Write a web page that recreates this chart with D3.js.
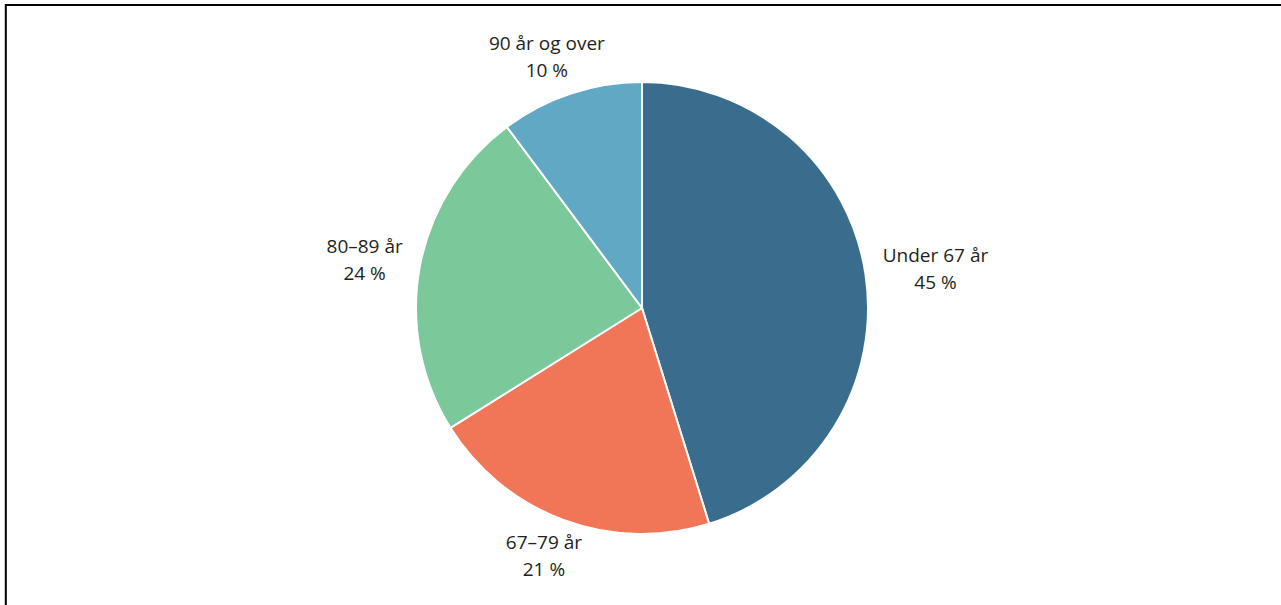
<!DOCTYPE html>
<html>
<head>
<meta charset="utf-8">
<script src="https://cdn.jsdelivr.net/npm/d3@7"></script>
<style>
  html, body { margin: 0; padding: 0; background: #fff; }
  svg { display: block; }
</style>
</head>
<body>
<svg id="chart" width="1281" height="605"></svg>
<script>
const categories = ["Under 67 år", "67–79 år", "80–89 år", "90 år og over"];
const values = [45.2, 20.9, 23.7, 10.2];
const valueLabels = ["45 %", "21 %", "24 %", "10 %"];
const colors = ["#396c8d", "#f17657", "#7bc99b", "#61a8c5"];

const W = 1281, H = 605;
const svg = d3.select("#chart");

// frame (only left and top edges visible in the reference)
svg.append("rect")
  .attr("x", 5.8).attr("y", 5)
  .attr("width", W + 20).attr("height", H + 20)
  .attr("fill", "none").attr("stroke", "#000").attr("stroke-width", 2);

const cx = 642, cy = 308, r = 226;
const g = svg.append("g").attr("transform", `translate(${cx},${cy})`);

const data = categories.map((c, i) => ({ cat: c, value: values[i], label: valueLabels[i], color: colors[i] }));
const pie = d3.pie().sort(null).value(d => d.value);
const arcs = pie(data);
const arc = d3.arc().innerRadius(0).outerRadius(r);

g.selectAll("path.slice")
  .data(arcs)
  .join("path")
  .attr("class", "slice")
  .attr("d", arc)
  .attr("fill", d => d.data.color)
  .attr("stroke", "#fff")
  .attr("stroke-width", 2)
  .attr("stroke-linejoin", "round");

// labels placed outside the pie along the mid angle
const gap = 18, lineH = 27, capH = 13.5;
const labels = g.selectAll("text.lbl")
  .data(arcs)
  .join("text")
  .attr("class", "lbl")
  .attr("text-anchor", "middle")
  .attr("fill", "#231f20")
  .style("font-family", "'Open Sans', 'Noto Sans', sans-serif")
  .style("font-size", "19px");

labels.each(function(d) {
  const t = d3.select(this);
  t.append("tspan").attr("x", 0).attr("y", 0).text(d.data.cat);
  t.append("tspan").attr("x", 0).attr("y", lineH).text(d.data.label);
  const bb = this.getBBox();
  const w = bb.width, h = lineH + capH;
  const a = (d.startAngle + d.endAngle) / 2;
  const s = Math.sin(a), c = -Math.cos(a);
  const px = (r + gap) * s, py = (r + gap) * c;
  const mx = px + s * w / 2, my = py + c * h / 2;
  const b1 = my - h / 2 + capH;
  t.selectAll("tspan").attr("x", mx);
  t.select("tspan:nth-child(1)").attr("y", b1);
  t.select("tspan:nth-child(2)").attr("y", b1 + lineH);
});
</script>
</body>
</html>
